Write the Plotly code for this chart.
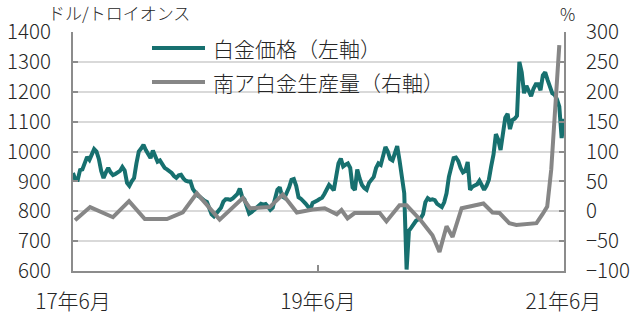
import pandas as pd
import plotly.graph_objects as go

# --- data -------------------------------------------------------------
# Platinum price (USD / troy ounce), weekly readings from 2017-06 to 2021-06
price_dates = pd.date_range("2017-06-01", periods=210, freq="7D")
price = [
    928, 905, 905, 938, 940, 960, 982, 972, 990, 1008,
    1000, 975, 935, 911, 930, 945, 930, 921, 925, 930,
    935, 948, 936, 895, 885, 900, 911, 960, 1000, 1010,
    1022, 1005, 990, 978, 1003, 985, 966, 970, 955, 945,
    940, 935, 928, 918, 912, 920, 922, 910, 902, 900,
    900, 875, 862, 853, 848, 840, 835, 831, 805, 790,
    783, 792, 800, 812, 832, 840, 840, 838, 843, 850,
    858, 876, 848, 839, 815, 792, 797, 803, 810, 818,
    825, 822, 824, 815, 805, 812, 840, 872, 880, 850,
    845, 862, 880, 905, 908, 885, 847, 842, 836, 826,
    816, 806, 828, 834, 836, 841, 845, 858, 875, 888,
    880, 870, 915, 960, 976, 950, 956, 960, 945, 880,
    871, 940, 910, 888, 878, 872, 895, 907, 915, 945,
    960, 955, 990, 1015, 1000, 975, 970, 995, 1018, 970,
    922, 860, 605, 735, 745, 760, 768, 773, 777, 790,
    830, 844, 838, 840, 837, 825, 818, 814, 830, 860,
    915, 955, 978, 980, 968, 945, 930, 935, 965, 872,
    882, 886, 890, 902, 890, 872, 885, 905, 950, 990,
    1058, 1040, 1005, 1070, 1113, 1126, 1075, 1105, 1110, 1120,
    1300, 1265, 1195, 1220, 1205, 1185, 1210, 1225, 1225, 1205,
    1255, 1265, 1240, 1213, 1195, 1190, 1175, 1150, 1045, 1110,
]

# South African platinum production (YoY %, right axis)
prod_dates = [
    "2017-06-07", "2017-07-22", "2017-09-28", "2017-11-15", "2018-01-01",
    "2018-03-08", "2018-04-24", "2018-06-05", "2018-08-12", "2018-10-20",
    "2018-11-10", "2019-01-08", "2019-02-16", "2019-03-30", "2019-05-16",
    "2019-06-21", "2019-07-27", "2019-08-10", "2019-08-28", "2019-09-18",
    "2019-12-02", "2019-12-22", "2020-01-30", "2020-02-20", "2020-04-02",
    "2020-05-07", "2020-05-28", "2020-06-18", "2020-07-06", "2020-08-02",
    "2020-10-06", "2020-11-02", "2020-11-23", "2020-12-22", "2021-01-12",
    "2021-03-13", "2021-03-31", "2021-04-14", "2021-04-26", "2021-05-05",
    "2021-05-14", "2021-05-20",
]
prod = [
    -15, 7, -10, 17, -13, -13, -2, 30, -14, 22,
    5, 7, 28, -2, 3, 5, -5, 2, -12, -3,
    -3, -17, 10, 10, -15, -40, -68, -25, -43, 5,
    13, -2, -3, -20, -23, -20, -5, 8, 70, 150,
    240, 278,
]

x_tickvals = ["2017-06-01", "2019-06-01", "2021-06-01"]
x_ticktext = ["17年6月", "19年6月", "21年6月"]

series_names = ["白金価格（左軸）", "南ア白金生産量（右軸）"]

# --- styling ------------------------------------------------------------
TEAL = "#17706f"
GREY = "#868686"
AXIS = "#8c8c8c"
GRID = "#d9d9d9"
TXT = "#262626"
FONT = "Noto Sans CJK JP"
YTICKFONT = dict(size=20.5, family=FONT, color=TXT, weight=300)
XTICKFONT = dict(size=21, family=FONT, color=TXT, weight=300)

fig = go.Figure()
fig.add_trace(go.Scatter(x=price_dates, y=price, mode="lines", name=series_names[0],
                         line=dict(color=TEAL, width=4), yaxis="y", showlegend=False))
fig.add_trace(go.Scatter(x=pd.to_datetime(prod_dates), y=prod, mode="lines", name=series_names[1],
                         line=dict(color=GREY, width=4), yaxis="y2", showlegend=False))

fig.update_layout(
    width=640, height=315,
    margin=dict(l=73, r=76, t=32, b=44),
    paper_bgcolor="white", plot_bgcolor="white",
    font=dict(family=FONT, color=TXT, size=19),
    xaxis=dict(
        type="date", range=["2017-06-01", "2021-06-03"],
        tickvals=x_tickvals, ticktext=x_ticktext,
        showgrid=False, showline=True, linecolor=AXIS, linewidth=2,
        ticks="inside", ticklen=6, tickcolor=AXIS, tickwidth=1.5,
        ticklabelstandoff=11, tickfont=XTICKFONT,
        zeroline=False, automargin=False,
    ),
    yaxis=dict(
        range=[600, 1400], dtick=100, tick0=600,
        showgrid=True, gridcolor=GRID, gridwidth=1.5,
        showline=True, linecolor=AXIS, linewidth=2,
        ticks="inside", ticklen=5, tickcolor=AXIS, tickwidth=1.5,
        ticklabelstandoff=16, tickfont=YTICKFONT,
        zeroline=False, automargin=False,
    ),
    yaxis2=dict(
        range=[-100, 300], dtick=50, tick0=-100,
        overlaying="y", side="right",
        showgrid=False, showline=True, linecolor=AXIS, linewidth=2,
        ticks="inside", ticklen=5, tickcolor=AXIS, tickwidth=1.5,
        ticklabelstandoff=16, tickfont=YTICKFONT,
        zeroline=False, automargin=False,
    ),
)

# legend drawn by hand (long line keys like the original)
def px_x(px):
    return (px - 73) / 491

def px_y(py):
    return (271 - py) / 239

for i, (name, col, ly) in enumerate([(series_names[0], TEAL, 48), (series_names[1], GREY, 82)]):
    fig.add_shape(type="line", xref="paper", yref="paper",
                  x0=px_x(152), x1=px_x(205), y0=px_y(ly), y1=px_y(ly),
                  line=dict(color=col, width=4))
    fig.add_annotation(xref="paper", yref="paper", x=px_x(211), y=px_y(ly),
                       xanchor="left", yanchor="middle", showarrow=False,
                       text=name, font=dict(size=21, family=FONT, color=TXT, weight=300))

fig.add_annotation(xref="paper", yref="paper", x=px_x(119), y=px_y(13),
                   xanchor="center", yanchor="middle", showarrow=False,
                   text="ドル/トロイオンス", font=dict(size=17, family=FONT, color=TXT, weight=300))
fig.add_annotation(xref="paper", yref="paper", x=px_x(567), y=px_y(14),
                   xanchor="center", yanchor="middle", showarrow=False,
                   text="%", font=dict(size=17, family=FONT, color=TXT, weight=300))

fig.write_html("out.html")
